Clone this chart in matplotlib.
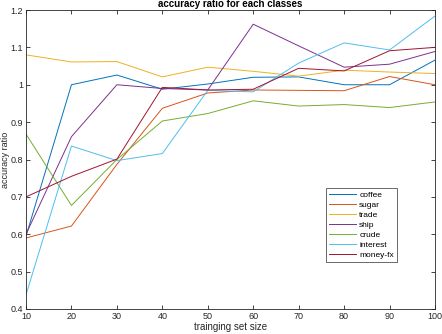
import matplotlib
matplotlib.use("Agg")
import matplotlib.pyplot as plt

plt.rcParams["font.family"] = ["Liberation Sans", "DejaVu Sans"]

# training set sizes
sizes = [10, 20, 30, 40, 50, 60, 70, 80, 90, 100]

# accuracy ratio per class
coffee = [0.595, 1.0, 1.026, 0.988, 1.002, 1.02, 1.021, 1.0, 1.0, 1.066]
sugar = [0.59, 0.622, 0.787, 0.937, 0.978, 0.986, 0.985, 0.984, 1.022, 1.0]
trade = [1.08, 1.061, 1.062, 1.021, 1.047, 1.036, 1.023, 1.039, 1.034, 1.03]
ship = [0.6, 0.861, 1.0, 0.99, 0.986, 1.162, 1.104, 1.047, 1.055, 1.089]
crude = [0.868, 0.677, 0.8, 0.903, 0.923, 0.957, 0.943, 0.947, 0.939, 0.954]
interest = [0.438, 0.836, 0.797, 0.816, 0.985, 0.981, 1.058, 1.112, 1.093, 1.184]
money_fx = [0.7, 0.755, 0.801, 0.993, 0.986, 0.988, 1.044, 1.037, 1.091, 1.1]

names = ["coffee", "sugar", "trade", "ship", "crude", "interest", "money-fx"]
series = [coffee, sugar, trade, ship, crude, interest, money_fx]
colors = ["#0072BD", "#D95319", "#EDB120", "#7E2F8E", "#77AC30", "#4DBEEE", "#A2142F"]

fig = plt.figure(figsize=(4.42, 3.34), dpi=100)
ax = fig.add_axes([26 / 442, 1 - 309 / 334, 409 / 442, 299 / 334])

for name, vals, c in zip(names, series, colors):
    ax.plot(sizes, vals, color=c, lw=0.7, label=name)

ax.set_xlim(10, 100)
ax.set_ylim(0.4, 1.2)
ax.set_xticks(sizes)
yt = [0.4, 0.5, 0.6, 0.7, 0.8, 0.9, 1.0, 1.1, 1.2]
ax.set_yticks(yt)
ax.set_yticklabels([("%g" % v) for v in yt])

gray = "#262626"
ax.tick_params(direction="in", top=True, right=True, length=3, width=0.6,
               labelsize=6.5, colors=gray, pad=2)
for s in ax.spines.values():
    s.set_color(gray)
    s.set_linewidth(0.6)

ax.set_title("accuracy ratio for each classes", fontsize=7, fontweight="bold",
             pad=2, color="black")
ax.set_xlabel("trainging set size", fontsize=7, labelpad=1, color=gray)
ax.set_ylabel("accuracy ratio", fontsize=6.5, color=gray, va="center")
ax.yaxis.set_label_coords(-0.051, 0.5)

leg = ax.legend(loc="upper left", bbox_to_anchor=(0.733, 0.405), borderaxespad=0,
                fontsize=6, frameon=True, fancybox=False, handlelength=3.2,
                handletextpad=0.4, labelspacing=0.25, borderpad=0.4)
leg.get_frame().set_edgecolor(gray)
leg.get_frame().set_linewidth(0.6)

fig.savefig("out.png", dpi=100)
